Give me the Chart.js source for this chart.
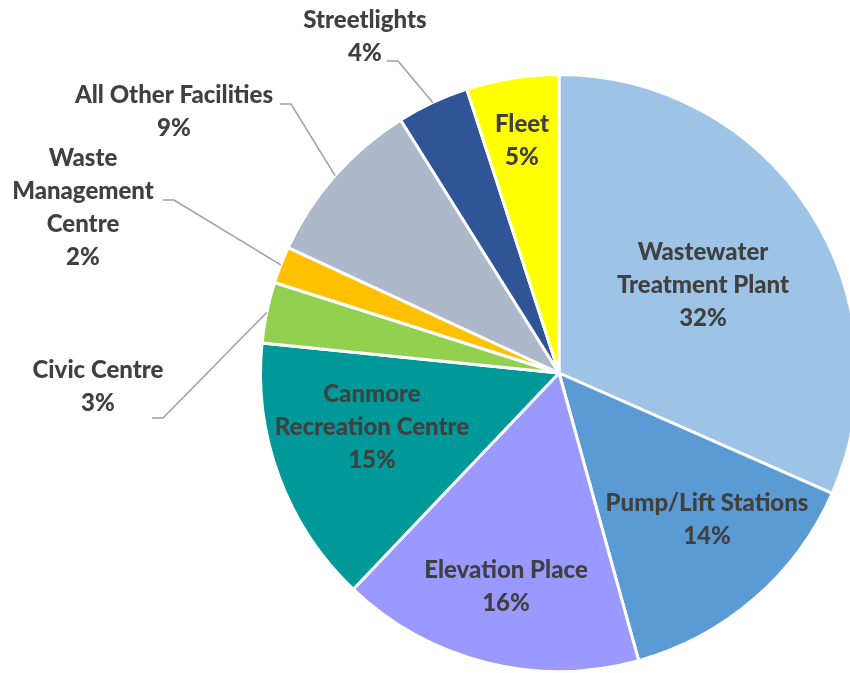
<!DOCTYPE html>
<html>
<head>
<meta charset="utf-8">
<script src="https://cdn.jsdelivr.net/npm/chart.js@4"></script>
<style>
  html, body { margin: 0; padding: 0; background: #fff; overflow: hidden; }
  #wrap { width: 880px; height: 673px; }
</style>
</head>
<body>
<div id="wrap"><canvas id="pie" width="880" height="673"></canvas></div>
<script>
// slices, clockwise from 12 o'clock
const categories = [
  ["Wastewater", "Treatment Plant"],
  ["Pump/Lift Stations"],
  ["Elevation Place"],
  ["Canmore", "Recreation Centre"],
  ["Civic Centre"],
  ["Waste", "Management", "Centre"],
  ["All Other Facilities"],
  ["Streetlights"],
  ["Fleet"]
];
const shares = [31.6, 14.1, 16.4, 14.5, 3.3, 2.0, 9.2, 3.9, 5.0];
const sliceColours = ["#9DC3E6", "#5B9BD5", "#9999FF", "#009999", "#92D050",
                      "#FFC000", "#ADB9CA", "#2F5597", "#FFFF00"];

// where each label block sits, offset from the pie centre (px);
// outside labels get a leader line starting at `stub`, relative to the block centre
const labelSpots = [
  { dx: 144, dy: -88 },
  { dx: 148, dy: 147 },
  { dx: -53, dy: 214 },
  { dx: -187, dy: 54 },
  { dx: -461, dy: 14, stub: [54, 31] },
  { dx: -476, dy: -165, stub: [80, -8] },
  { dx: -385, dy: -261, stub: [106, -8] },
  { dx: -194, dy: -336, stub: [22, 24] },
  { dx: -37, dy: -232 }
];

const labelInk = "#404040";
const leaderInk = "#A0A0A0";
const lineGap = 33;

const sliceLabels = {
  id: "sliceLabels",
  afterDatasetsDraw(chart) {
    const ctx = chart.ctx;
    const arcs = chart.getDatasetMeta(0).data;
    ctx.save();
    ctx.font = "900 24px Lato";
    ctx.fillStyle = labelInk;
    ctx.textAlign = "center";
    ctx.textBaseline = "middle";
    arcs.forEach((arc, k) => {
      const spot = labelSpots[k];
      const bx = arc.x + spot.dx;
      const by = arc.y + spot.dy;
      const lines = categories[k].concat([Math.round(shares[k]) + "%"]);
      lines.forEach((txt, n) => {
        ctx.fillText(txt, bx, by + (n - (lines.length - 1) / 2) * lineGap);
      });
      if (spot.stub) {
        const mid = (arc.startAngle + arc.endAngle) / 2;
        const ex = arc.x + Math.cos(mid) * arc.outerRadius;
        const ey = arc.y + Math.sin(mid) * arc.outerRadius;
        const sx = bx + spot.stub[0];
        const sy = by + spot.stub[1];
        ctx.beginPath();
        ctx.strokeStyle = leaderInk;
        ctx.lineWidth = 1.5;
        ctx.moveTo(sx, sy);
        ctx.lineTo(sx + 11, sy);
        ctx.lineTo(ex, ey);
        ctx.stroke();
      }
    });
    ctx.restore();
  }
};

new Chart(document.getElementById("pie"), {
  type: "pie",
  data: {
    labels: categories,
    datasets: [{
      data: shares,
      backgroundColor: sliceColours,
      borderColor: "#FFFFFF",
      borderWidth: 3
    }]
  },
  options: {
    responsive: false,
    animation: false,
    events: [],
    layout: { padding: { left: 259, right: 21, top: 73, bottom: 0 } },
    plugins: {
      legend: { display: false },
      tooltip: { enabled: false }
    }
  },
  plugins: [sliceLabels]
});
</script>
</body>
</html>
